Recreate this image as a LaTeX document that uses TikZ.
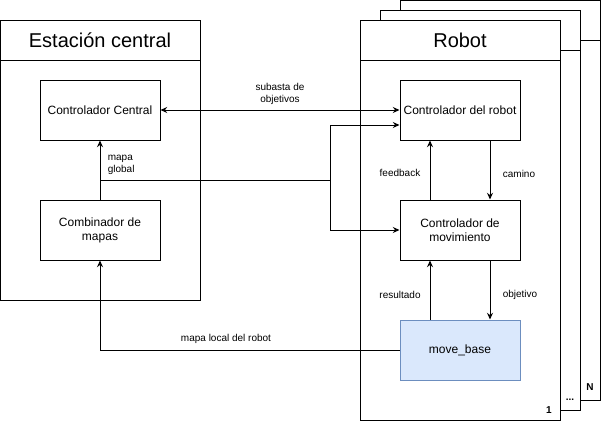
\documentclass[tikz,border=0pt]{standalone}
\usepackage{fontspec}
\setmainfont{Liberation Sans}
\usetikzlibrary{arrows.meta}
\definecolor{mbfill}{HTML}{DAE8FC}
\definecolor{mbdraw}{HTML}{6C8EBF}
\begin{document}
\begin{tikzpicture}[x=0.75pt,y=-0.75pt, line width=0.75pt,
  box/.style={draw, fill=white, minimum width=90pt, minimum height=45pt, inner sep=0pt, align=center, font=\fontsize{9}{10.5}\selectfont},
  pagebox/.style={draw, fill=white, minimum width=150pt, minimum height=300pt, inner sep=0pt},
  lbl/.style={font=\fontsize{7.5}{9}\selectfont, align=center, inner sep=1pt},
  pnum/.style={font=\fontsize{7.5}{9}\selectfont\bfseries, inner sep=0pt},
  ttl/.style={font=\fontsize{15}{18}\selectfont, inner sep=0pt},
  arr/.style={-{Stealth[length=5pt,width=4.5pt]}},
  darr/.style={{Stealth[length=5pt,width=4.5pt]}-{Stealth[length=5pt,width=4.5pt]}}
]
\useasboundingbox (0,0) rectangle (601,421);

% left container
\node[draw, minimum width=150pt, minimum height=210pt, inner sep=0pt] (est) at (100,160) {};
\coordinate (estL) at (0,60); \coordinate (estR) at (200,60);
\draw (estL) -- (estR);
\node[ttl] (estT) at (100,40) {Estación central};

% stacked robot pages
\node[pagebox] (pN) at (500,200) {};
\coordinate (pNL) at (400,40); \coordinate (pNR) at (600,40);
\draw (pNL) -- (pNR);
\node[pnum] (lN) at (590,387) {N};
\node[pagebox] (pM) at (480,210) {};
\coordinate (pML) at (380,50); \coordinate (pMR) at (580,50);
\draw (pML) -- (pMR);
\node[pnum] (lM) at (570,400) {...};
\node[pagebox] (p1) at (460,220) {};
\coordinate (p1L) at (360,60); \coordinate (p1R) at (560,60);
\draw (p1L) -- (p1R);
\node[pnum] (l1) at (549,410) {1};
\node[ttl] (robT) at (460,40) {Robot};

% boxes
\node[box] (central) at (100,110) {Controlador Central};
\node[box] (comb) at (100,230) {Combinador de\\mapas};
\node[box] (rctl) at (460,110) {Controlador del robot};
\node[box] (mctl) at (460,230) {Controlador de\\movimiento};
\node[box, fill=mbfill, draw=mbdraw] (mb) at (460,350) {move\_base};

% connectors
\draw[darr] (central.east) -- (rctl.west);
\node[lbl] (lsub) at (280,94) {subasta de\\objetivos};

\draw[arr] (comb.north) -- (central.south);
\node[lbl, align=left, anchor=west] (lmg) at (106,165) {mapa\\global};
\coordinate (j1) at (100,180);
\coordinate (j2) at (330,180);
\draw (j1) -- (j2);
\draw[arr] (j2) |- ([yshift=-11.25pt]rctl.west);
\draw[arr] (j2) |- (mctl.west);

\draw[arr] ([xshift=-22.5pt]mctl.north) -- ([xshift=-22.5pt]rctl.south);
\node[lbl] (lfb) at (400,173) {feedback};
\draw[arr] ([xshift=22.5pt]rctl.south) -- ([xshift=22.5pt]mctl.north);
\node[lbl] (lcam) at (519,174) {camino};

\draw[arr] ([xshift=-22.5pt]mb.north) -- ([xshift=-22.5pt]mctl.south);
\node[lbl] (lres) at (400,295) {resultado};
\draw[arr] ([xshift=22.5pt]mctl.south) -- ([xshift=22.5pt]mb.north);
\node[lbl] (lobj) at (520,295) {objetivo};

\draw[arr] (mb.west) -| (comb.south);
\node[lbl] (lml) at (226,339) {mapa local del robot};
\end{tikzpicture}
\end{document}
